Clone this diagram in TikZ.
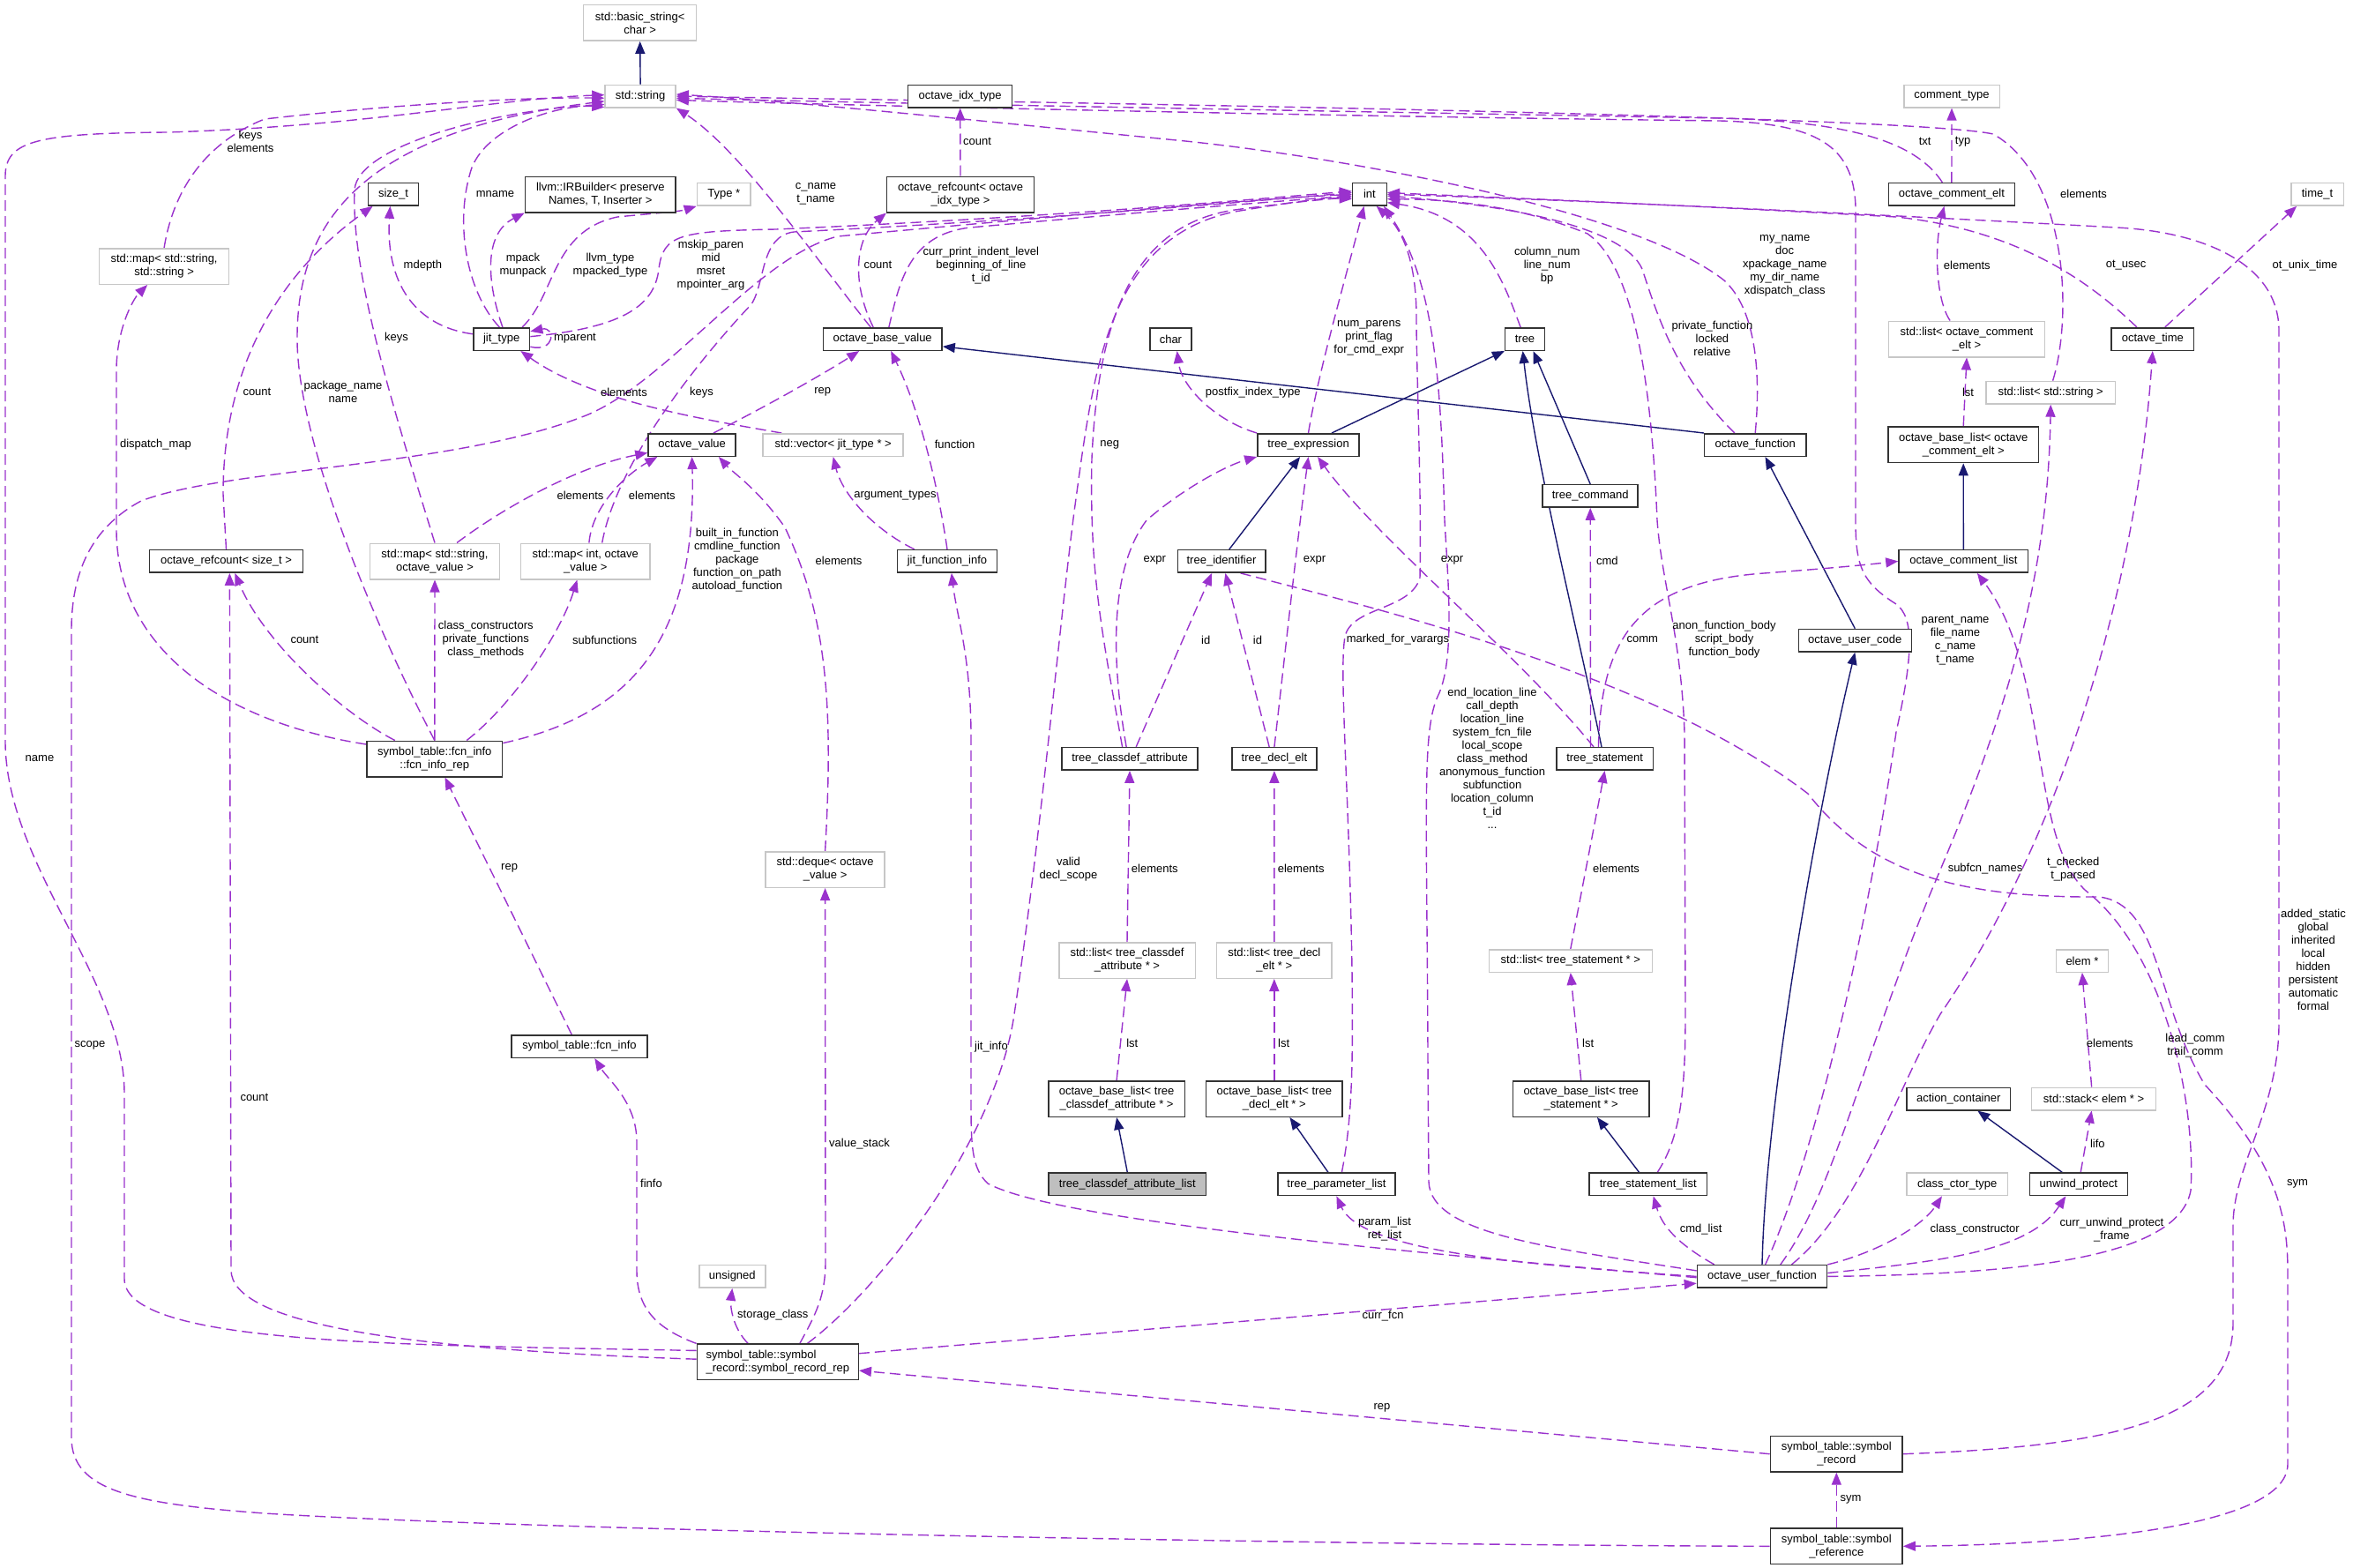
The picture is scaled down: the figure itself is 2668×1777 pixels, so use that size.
\documentclass[tikz,border=0pt]{standalone}
\usepackage{fontspec}
\setmainfont{Liberation Sans}
\usetikzlibrary{arrows.meta}
\definecolor{purp}{HTML}{9A32CD}
\definecolor{navy}{HTML}{191970}
\pgfdeclarelayer{bg}
\pgfdeclarelayer{edges}
\pgfsetlayers{bg,edges,main}
\newcommand{\lbfont}{\fontsize{13}{15}\selectfont}
\begin{document}
\begin{tikzpicture}[x=1pt,y=-1pt,
  cls/.style={rectangle,draw=black!80,line width=1.5pt,fill=white,inner sep=0pt,minimum height=25.5pt,align=center,font=\lbfont},
  cls2/.style={cls,minimum height=40.5pt},
  undoc/.style={draw=black!22},
  elab/.style={inner sep=0pt,align=center,font=\lbfont},
  uedge/.style={draw=purp,line width=1.4pt,dash pattern=on 12pt off 6pt,-{Triangle[length=14pt,width=11pt]}},
  iedge/.style={draw=navy,line width=1.4pt,-{Triangle[length=14pt,width=11pt]}}]
\begin{pgfonlayer}{bg}
\fill[white] (0,0) rectangle (2668,1777);
\end{pgfonlayer}
\useasboundingbox (0,0) rectangle (2668,1777);

% ---------------- nodes ----------------
\node[cls2,undoc,minimum width=128pt] (bs) at (725.7,25.9) {std::basic\_string<\\char >};
\node[cls,undoc,minimum width=80pt] (str) at (726.1,109.1) {std::string};
\node[cls,minimum width=118pt] (idx) at (1088.7,109.1) {octave\_idx\_type};
\node[cls,undoc,minimum width=108.5pt] (ctype) at (2213,109.1) {comment\_type};
\node[cls2,undoc,minimum width=147pt] (mapss) at (186.1,302) {std::map< std::string,\\std::string >};
\node[cls,minimum width=57.4pt] (sizet) at (446,220.3) {size\_t};
\node[cls2,minimum width=170.6pt] (llvm) at (680.8,220.5) {llvm::IRBuilder< preserve\\Names, T, Inserter >};
\node[cls,undoc,minimum width=60.8pt] (typep) at (820.8,220.3) {Type *};
\node[cls2,minimum width=166.7pt] (rcidx) at (1089,220.5) {octave\_refcount< octave\\\_idx\_type >};
\node[cls,minimum width=38.7pt] (int) at (1552.9,220.3) {int};
\node[cls,minimum width=143pt] (celt) at (2212.9,220.3) {octave\_comment\_elt};
\node[cls,undoc,minimum width=59.5pt] (timet) at (2627.5,220.3) {time\_t};
\node[cls,minimum width=63.8pt] (jit) at (568.7,384.5) {jit\_type};
\node[cls,minimum width=134.8pt] (obv) at (1000.7,384.5) {octave\_base\_value};
\node[cls,minimum width=47.3pt] (chr) at (1327.4,384.5) {char};
\node[cls,minimum width=44.7pt] (tree) at (1729,384.5) {tree};
\node[cls2,undoc,minimum width=177.3pt] (lce) at (2230,384.5) {std::list< octave\_comment\\\_elt >};
\node[cls,minimum width=93.6pt] (otime) at (2440.8,384.5) {octave\_time};
\node[cls,undoc,minimum width=146.3pt] (lstr) at (2325.2,445.2) {std::list< std::string >};
\node[cls,minimum width=99.1pt] (ov) at (784.6,504.5) {octave\_value};
\node[cls,undoc,minimum width=159pt] (vjt) at (944.7,504.5) {std::vector< jit\_type * >};
\node[cls,minimum width=115.2pt] (texpr) at (1483.5,504.5) {tree\_expression};
\node[cls,minimum width=115.3pt] (ofn) at (1990.2,504.5) {octave\_function};
\node[cls2,minimum width=170.6pt] (oblce) at (2226.2,504.4) {octave\_base\_list< octave\\\_comment\_elt >};
\node[cls,minimum width=108pt] (tcmd) at (1803.2,562.4) {tree\_command};
\node[cls,minimum width=174.4pt] (rcsz) at (256.5,636.4) {octave\_refcount< size\_t >};
\node[cls2,undoc,minimum width=147.2pt] (mapsov) at (493,636.5) {std::map< std::string,\\octave\_value >};
\node[cls2,undoc,minimum width=146.8pt] (mapiov) at (663.8,636.5) {std::map< int, octave\\\_value >};
\node[cls,minimum width=113pt] (jfi) at (1074,636.4) {jit\_function\_info};
\node[cls,minimum width=99.5pt] (tid) at (1385,636.4) {tree\_identifier};
\node[cls,minimum width=146.7pt] (ocl) at (2226.3,636.4) {octave\_comment\_list};
\node[cls,minimum width=128pt] (ouc) at (2103.3,726.2) {octave\_user\_code};
\node[cls2,minimum width=153.5pt] (fir) at (492.8,860.5) {symbol\_table::fcn\_info\\::fcn\_info\_rep};
\node[cls,minimum width=154.4pt] (tca) at (1281,860.4) {tree\_classdef\_attribute};
\node[cls,minimum width=95.7pt] (tde) at (1444.9,860.4) {tree\_decl\_elt};
\node[cls,minimum width=109.3pt] (tst) at (1819.6,860.4) {tree\_statement};
\node[cls2,undoc,minimum width=134.8pt] (deq) at (935.6,986) {std::deque< octave\\\_value >};
\node[cls2,undoc,minimum width=154.5pt] (ltca) at (1278,1089) {std::list< tree\_classdef\\\_attribute * >};
\node[cls2,undoc,minimum width=130.6pt] (ltde) at (1444.8,1089) {std::list< tree\_decl\\\_elt * >};
\node[cls,undoc,minimum width=185pt] (ltst) at (1780.8,1089.5) {std::list< tree\_statement * >};
\node[cls,undoc,minimum width=58.7pt] (elem) at (2360.9,1089.5) {elem *};
\node[cls,minimum width=153.6pt] (fi) at (657,1186.6) {symbol\_table::fcn\_info};
\node[cls2,minimum width=154.5pt] (obltca) at (1266.1,1246) {octave\_base\_list< tree\\\_classdef\_attribute * >};
\node[cls2,minimum width=154.4pt] (obltde) at (1444.8,1246) {octave\_base\_list< tree\\\_decl\_elt * >};
\node[cls2,minimum width=154.4pt] (obltst) at (1792.7,1246) {octave\_base\_list< tree\\\_statement * >};
\node[cls,minimum width=117.8pt] (ac) at (2220.7,1246) {action\_container};
\node[cls,undoc,minimum width=141.2pt] (stk) at (2374,1246) {std::stack< elem * >};
\node[cls,fill=black!25,minimum width=178.7pt] (tcal) at (1278.3,1342.8) {tree\_classdef\_attribute\_list};
\node[cls,minimum width=133.2pt] (tpl) at (1515.4,1342.8) {tree\_parameter\_list};
\node[cls,minimum width=133.5pt] (tsl) at (1868.7,1342.8) {tree\_statement\_list};
\node[cls,undoc,minimum width=114.8pt] (cct) at (2219.2,1342.8) {class\_ctor\_type};
\node[cls,minimum width=111pt] (uwp) at (2356.8,1342.8) {unwind\_protect};
\node[cls,undoc,minimum width=74.9pt] (uns) at (830.3,1447.4) {unsigned};
\node[cls,minimum width=147.2pt] (ouf) at (1998,1447.4) {octave\_user\_function};
\node[cls2,align=left,minimum width=182.9pt] (srr) at (881.8,1544.4) {symbol\_table::symbol\\\_record::symbol\_record\_rep};
\node[cls2,minimum width=149.7pt] (sr) at (2082.3,1648.7) {symbol\_table::symbol\\\_record};
\node[cls2,minimum width=149.7pt] (sref) at (2082.3,1753.3) {symbol\_table::symbol\\\_reference};

% ---------------- labels ----------------
\node[elab] (l1) at (284,160) {keys\\elements};
\node[elab] (l2) at (45,859.6) {name};
\node[elab] (l3) at (561.5,219.7) {mname};
\node[elab] (l4) at (479.4,300.7) {mdepth};
\node[elab] (l5) at (593,301) {mpack\\munpack};
\node[elab] (l6) at (692,301) {llvm\_type\\mpacked\_type};
\node[elab] (l7) at (652,383.5) {mparent};
\node[elab] (l8) at (806,300.6) {mskip\_paren\\mid\\msret\\mpointer\_arg};
\node[elab] (l9) at (707.4,444.8) {elements};
\node[elab] (l10) at (795.5,444.8) {keys};
\node[elab] (l11) at (449.6,383.5) {keys};
\node[elab] (l12) at (389,444) {package\_name\\name};
\node[elab] (l13) at (925,220) {c\_name\\t\_name};
\node[elab] (l14) at (2182.6,160.7) {txt};
\node[elab] (l15) at (2225.6,160.7) {typ};
\node[elab] (l16) at (2362.5,219.4) {elements};
\node[elab] (l17) at (2023.7,301) {my\_name\\doc\\xpackage\_name\\my\_dir\_name\\xdispatch\_class};
\node[elab] (l18) at (2217,726) {parent\_name\\file\_name\\c\_name\\t\_name};
\node[elab] (l19) at (1108,160.7) {count};
\node[elab] (l20) at (995.4,300.7) {count};
\node[elab] (l21) at (1112.3,301) {curr\_print\_indent\_level\\beginning\_of\_line\\t\_id};
\node[elab] (l22) at (932.8,444.8) {rep};
\node[elab] (l23) at (1082.6,503.8) {function};
\node[elab] (l24) at (1014.9,561.6) {argument\_types};
\node[elab] (l25) at (658,561.6) {elements};
\node[elab] (l26) at (739.3,561.6) {elements};
\node[elab] (l27) at (951.1,635.4) {elements};
\node[elab] (l28) at (835.9,635.5) {built\_in\_function\\cmdline\_function\\package\\function\_on\_path\\autoload\_function};
\node[elab] (l29) at (550.8,725.5) {class\_constructors\\private\_functions\\class\_methods};
\node[elab] (l30) at (685.6,725.4) {subfunctions};
\node[elab] (l31) at (345.4,725.4) {count};
\node[elab] (l32) at (291.4,444.8) {count};
\node[elab] (l33) at (176.5,503.8) {dispatch\_map};
\node[elab] (l34) at (577.6,984.8) {rep};
\node[elab] (l35) at (738.5,1341.8) {finfo};
\node[elab] (l36) at (876.3,1491.6) {storage\_class};
\node[elab] (l37) at (974.5,1296.8) {value\_stack};
\node[elab] (l38) at (1211.4,985.2) {valid\\decl\_scope};
\node[elab] (l39) at (1568,1491.6) {curr\_fcn};
\node[elab] (l40) at (102,1185) {scope};
\node[elab] (l41) at (288.4,1244.6) {count};
\node[elab] (l42) at (1567,1596.4) {rep};
\node[elab] (l43) at (2098.4,1700.4) {sym};
\node[elab] (l44) at (2622.9,1088) {added\_static\\global\\inherited\\local\\hidden\\persistent\\automatic\\formal};
\node[elab] (l45) at (2605,1342.2) {sym};
\node[elab] (l46) at (2489,1186) {lead\_comm\\trail\_comm};
\node[elab] (l47) at (2350.6,985.2) {t\_checked\\t\_parsed};
\node[elab] (l48) at (2251,984.8) {subfcn\_names};
\node[elab] (l49) at (1570,1394) {param\_list\\ret\_list};
\node[elab] (l50) at (1928.6,1394) {cmd\_list};
\node[elab] (l51) at (2239.2,1394) {class\_constructor};
\node[elab] (l52) at (2394.4,1394.2) {curr\_unwind\_protect\\\_frame};
\node[elab] (l53) at (1124,1187) {jit\_info};
\node[elab] (l54) at (1692,860) {end\_location\_line\\call\_depth\\location\_line\\system\_fcn\_file\\local\_scope\\class\_method\\anonymous\_function\\subfunction\\location\_column\\t\_id\\...};
\node[elab] (l55) at (1955,725.5) {anon\_function\_body\\script\_body\\function\_body};
\node[elab] (l56) at (1822.3,635.4) {cmd};
\node[elab] (l57) at (1646.6,635.4) {expr};
\node[elab] (l58) at (1862.3,725.4) {comm};
\node[elab] (l59) at (1426,725.4) {id};
\node[elab] (l60) at (1490.5,635.4) {expr};
\node[elab] (l61) at (1367.2,725.4) {id};
\node[elab] (l62) at (1309.3,635.4) {expr};
\node[elab] (l63) at (1258.2,504.2) {neg};
\node[elab] (l64) at (1552.2,383.7) {num\_parens\\print\_flag\\for\_cmd\_expr};
\node[elab] (l65) at (1420.8,444.8) {postfix\_index\_type};
\node[elab] (l66) at (1754.2,301.2) {column\_num\\line\_num\\bp};
\node[elab] (l67) at (1585,725.4) {marked\_for\_varargs};
\node[elab] (l68) at (1941.4,383.7) {private\_function\\locked\\relative};
\node[elab] (l69) at (2410.6,300.7) {ot\_usec};
\node[elab] (l70) at (2613.5,300.7) {ot\_unix\_time};
\node[elab] (l71) at (2230.3,300.7) {elements};
\node[elab] (l72) at (2231.5,444.8) {lst};
\node[elab] (l73) at (1309.3,984.8) {elements};
\node[elab] (l74) at (1283.8,1183) {lst};
\node[elab] (l75) at (1475.2,984.8) {elements};
\node[elab] (l76) at (1455.6,1183) {lst};
\node[elab] (l77) at (1832.5,984.8) {elements};
\node[elab] (l78) at (1800.6,1183) {lst};
\node[elab] (l79) at (2392.3,1183) {elements};
\node[elab] (l80) at (2378.3,1296.8) {lifo};

% ---------------- edges ----------------
\begin{pgfonlayer}{edges}
% inheritance
\draw[iedge] (str.north) -- (bs.south);
\draw[iedge] (ofn.north west) -- (obv.-7);
\draw[iedge] (texpr.27) -- (tree.south west);
\draw[iedge] (tcmd.north) -- (tree.-55);
\draw[iedge] (tst.105) .. controls (1790,720) and (1740,520) .. (tree.-100);
\draw[iedge] (tid.57) -- (texpr.-125);
\draw[iedge] (ouc.north) -- (ofn.-50);
\draw[iedge] (ouf.north) .. controls (2002,1250) and (2060,920) .. (ouc.south);
\draw[iedge] (ocl.north) -- (oblce.south);
\draw[iedge] (tcal.north) -- (obltca.south);
\draw[iedge] (tpl.125) -- (obltde.-50);
\draw[iedge] (tsl.127) -- (obltst.-49);
\draw[iedge] (uwp.144) -- (ac.-32);

% usage: to std::string
\draw[uedge] (mapss.north) .. controls (195,225) and (225,165) .. (300,135) .. controls (450,118) and (600,110) .. (str.183);
\draw[uedge] (srr.172) .. controls (450,1525) and (141,1525) .. (141,1450) -- (141,1240) .. controls (141,1110) and (6,980) .. (6,840) -- (6,200) .. controls (6,160) and (40,151) .. (190,150) .. controls (420,143) and (560,112) .. (str.178);
\draw[uedge] (fir.north) .. controls (430,720) and (335,500) .. (337,380) .. controls (338,260) and (400,150) .. (str.188);
\draw[uedge] (mapsov.north) .. controls (445,460) and (398,310) .. (402,215) .. controls (406,165) and (560,125) .. (str.193);
\draw[uedge] (jit.100) .. controls (528,330) and (515,250) .. (535,190) .. controls (555,140) and (640,118) .. (str.197);
\draw[uedge] (obv.135) .. controls (930,300) and (840,170) .. (str.south east);
\draw[uedge] (celt.128) .. controls (2175,165) and (2110,138) .. (1950,134) .. controls (1500,126) and (900,115) .. (str.-3);
\draw[uedge] (lstr.80) .. controls (2350,360) and (2345,200) .. (2260,152) .. controls (2150,128) and (900,112) .. (str.east);
\draw[uedge] (ofn.north) .. controls (1997,420) and (1990,350) .. (1955,318) .. controls (1850,235) and (1500,175) .. (1334,159) .. controls (1100,136) and (900,115) .. (str.3);
\draw[uedge] (ouf.75) .. controls (2050,1330) and (2110,1100) .. (2150,830) .. controls (2170,740) and (2170,700) .. (2150,685) .. controls (2110,660) and (2104,640) .. (2104,590) -- (2104,235) .. controls (2102,165) and (2060,140) .. (1950,137) .. controls (1500,132) and (900,118) .. (str.-6);

% size_t, llvm, Type*, jit_type
\draw[uedge] (rcsz.north) -- (253,560) .. controls (253,400) and (330,300) .. (sizet.-150);
\draw[uedge] (jit.170) .. controls (470,370) and (437,320) .. (sizet.-105);
\draw[uedge] (jit.85) .. controls (552,320) and (548,265) .. (llvm.south west);
\draw[uedge] (jit.30) .. controls (630,335) and (625,262) .. (700,246) .. controls (740,242) and (770,240) .. (typep.south west);
\draw[uedge] (jit.-15) .. controls (630,400) and (630,370) .. (jit.15);
\draw[uedge] (vjt.167) .. controls (800,476) and (670,455) .. (jit.-32);

% to int (left side)
\draw[uedge] (jit.5) .. controls (700,372) and (742,350) .. (747,305) .. controls (752,266) and (770,262) .. (880,260) .. controls (1200,246) and (1420,226) .. (int.170);
\draw[uedge] (mapiov.48) .. controls (700,520) and (800,400) .. (852,345) .. controls (868,320) and (862,268) .. (900,263) .. controls (1200,248) and (1420,228) .. (int.175);
\draw[uedge] (sref.west) .. controls (1500,1752) and (600,1735) .. (300,1716) .. controls (150,1705) and (81,1690) .. (81,1630) -- (81,715) .. controls (81,640) and (110,595) .. (160,568) .. controls (260,530) and (520,530) .. (667,470) .. controls (760,430) and (860,290) .. (950,268) .. controls (1200,245) and (1420,226) .. (int.180);
\draw[uedge] (obv.62) .. controls (1020,320) and (1030,266) .. (1100,258) .. controls (1300,240) and (1450,228) .. (int.185);
\draw[uedge] (tca.122) .. controls (1250,720) and (1235,650) .. (1238,520) .. controls (1245,360) and (1285,255) .. (1400,238) .. controls (1460,230) and (1500,226) .. (int.190);
\draw[uedge] (srr.32) .. controls (1000,1460) and (1130,1290) .. (1150,1150) .. controls (1180,950) and (1200,720) .. (1218,580) .. controls (1240,420) and (1255,270) .. (1400,240) .. controls (1460,230) and (1500,224) .. (int.195);
% to int (bottom)
\draw[uedge] (texpr.north) .. controls (1495,420) and (1530,300) .. (int.-115);
\draw[uedge] (tpl.66) .. controls (1534,1265) and (1534,1200) .. (1533,1100) .. controls (1530,900) and (1518,760) .. (1525,722) .. controls (1532,688) and (1600,692) .. (1610,655) .. controls (1612,560) and (1606,420) .. (1606,360) .. controls (1606,300) and (1592,262) .. (int.-60);
\draw[uedge] (ouf.175) .. controls (1760,1415) and (1622,1400) .. (1620,1340) -- (1619,1200) .. controls (1618,920) and (1612,830) .. (1630,790) .. controls (1650,750) and (1642,660) .. (1638,590) .. controls (1634,440) and (1628,320) .. (int.-40);
% to int (right side)
\draw[uedge] (tree.110) .. controls (1705,320) and (1680,245) .. (int.-25);
\draw[uedge] (tsl.52) .. controls (1905,1290) and (1911,1240) .. (1911,1150) -- (1910,830) .. controls (1906,720) and (1884,660) .. (1879,590) .. controls (1872,420) and (1850,300) .. (1800,265) .. controls (1720,232) and (1640,226) .. (int.-15);
\draw[uedge] (ofn.150) .. controls (1900,425) and (1880,360) .. (1862,305) .. controls (1840,255) and (1700,232) .. (int.-5);
\draw[uedge] (sr.east) .. controls (2400,1640) and (2532,1610) .. (2532,1500) -- (2532,1390) .. controls (2532,1320) and (2584,1260) .. (2584,1160) -- (2584,375) .. controls (2584,300) and (2500,263) .. (2400,258) .. controls (2000,236) and (1700,224) .. (int.0);
\draw[uedge] (otime.143) .. controls (2380,330) and (2300,262) .. (2150,246) .. controls (1900,232) and (1700,224) .. (int.5);

% octave_value / octave_base_value cluster
\draw[uedge] (mapiov.79) .. controls (672,570) and (715,535) .. (ov.-161);
\draw[uedge] (mapsov.40) .. controls (565,580) and (650,530) .. (ov.-170);
\draw[uedge] (deq.north) .. controls (945,800) and (938,700) .. (890,598) .. controls (860,555) and (830,535) .. (ov.-24);
\draw[uedge] (fir.13) .. controls (720,810) and (790,720) .. (ov.south);
\draw[uedge] (ov.29) .. controls (880,455) and (940,420) .. (obv.-153);
\draw[uedge] (jfi.north) .. controls (1065,560) and (1045,470) .. (obv.-55);
\draw[uedge] (jfi.160) .. controls (990,600) and (955,560) .. (vjt.south);
\draw[uedge] (obv.128) .. controls (965,320) and (970,270) .. (rcidx.south west);
\draw[uedge] (rcidx.north) -- (idx.south);

% fcn_info_rep
\draw[uedge] (fir.north) -- (mapsov.south);
\draw[uedge] (fir.30) .. controls (580,800) and (635,720) .. (mapiov.-114);
\draw[uedge] (fir.155) .. controls (390,810) and (300,730) .. (rcsz.-54);
\draw[uedge] (fir.168) .. controls (260,820) and (132,740) .. (132,600) -- (132,420) .. controls (132,375) and (150,340) .. (mapss.-132);
\draw[uedge] (fi.123) -- (fir.-61);

% symbol_record_rep
\draw[uedge] (srr.178) .. controls (450,1530) and (262,1500) .. (262,1440) -- (rcsz.-74);
\draw[uedge] (srr.north west) .. controls (740,1505) and (722,1480) .. (722,1440) -- (722,1295) .. controls (722,1250) and (690,1225) .. (fi.-38);
\draw[uedge] (srr.148) .. controls (830,1505) and (828,1480) .. (uns.south);
\draw[uedge] (srr.40) .. controls (925,1490) and (936,1470) .. (936,1430) -- (deq.south);
\draw[uedge] (srr.6) -- (ouf.-174);
\draw[uedge] (sr.west) -- (srr.-6);
\draw[uedge] (sref.north) -- (sr.south);

% tree_identifier -> symbol_reference
\draw[uedge] (tid.-32) .. controls (1600,700) and (1880,770) .. (2050,900) .. controls (2120,990) and (2220,1018) .. (2380,1017) .. controls (2450,1025) and (2445,1140) .. (2500,1230) .. controls (2594,1330) and (2594,1400) .. (2594,1450) -- (2594,1660) .. controls (2594,1740) and (2300,1752) .. (sref.east);

% octave_user_function
\draw[uedge] (ouf.east) .. controls (2300,1445) and (2470,1425) .. (2484,1350) .. controls (2490,1250) and (2455,1080) .. (2365,1010) .. controls (2300,950) and (2325,760) .. (ocl.-41);
\draw[uedge] (ouf.22) .. controls (2110,1370) and (2150,1235) .. (2200,1150) .. controls (2320,975) and (2420,700) .. (otime.south);
\draw[uedge] (ouf.33) .. controls (2080,1350) and (2110,1205) .. (2190,1010) .. controls (2280,800) and (2322,650) .. (lstr.south);
\draw[uedge] (ouf.north east) .. controls (2130,1420) and (2180,1390) .. (cct.-142);
\draw[uedge] (ouf.3) .. controls (2200,1430) and (2300,1420) .. (uwp.-137);
\draw[uedge] (ouf.166) .. controls (1905,1412) and (1885,1392) .. (tsl.-66);
\draw[uedge] (ouf.west) .. controls (1750,1435) and (1545,1422) .. (tpl.south);
\draw[uedge] (ouf.181) .. controls (1600,1420) and (1200,1385) .. (1120,1342) .. controls (1102,1325) and (1101,1300) .. (1101,1250) -- (1101,830) .. controls (1100,740) and (1085,700) .. (jfi.-70);

% tree nodes
\draw[uedge] (tst.140) -- (tcmd.south);
\draw[uedge] (tst.133) .. controls (1720,740) and (1560,610) .. (texpr.-52);
\draw[uedge] (tst.118) .. controls (1815,720) and (1860,660) .. (2000,650) .. controls (2080,644) and (2120,640) .. (ocl.west);
\draw[uedge] (tde.113) -- (tid.-72);
\draw[uedge] (tde.north) .. controls (1455,760) and (1470,620) .. (texpr.south);
\draw[uedge] (tca.62) -- (tid.-129);
\draw[uedge] (tca.106) .. controls (1262,760) and (1255,650) .. (1300,590) .. controls (1340,555) and (1390,528) .. (texpr.south west);
\draw[uedge] (texpr.north west) .. controls (1380,478) and (1340,440) .. (chr.-62);

% comments / time
\draw[uedge] (otime.44) -- (timet.-150);
\draw[uedge] (celt.north) -- (ctype.south);
\draw[uedge] (lce.132) .. controls (2195,340) and (2193,280) .. (celt.-122);
\draw[uedge] (oblce.north) -- (lce.south);

% lists
\draw[uedge] (ltca.north) -- (tca.south);
\draw[uedge] (obltca.north) -- (ltca.south);
\draw[uedge] (ltde.north) -- (tde.south);
\draw[uedge] (obltde.north) -- (ltde.south);
\draw[uedge] (ltst.north) -- (tst.south);
\draw[uedge] (obltst.north) -- (ltst.south);
\draw[uedge] (uwp.80) -- (stk.-100);
\draw[uedge] (stk.100) -- (elem.south);
\end{pgfonlayer}
\end{tikzpicture}
\end{document}
